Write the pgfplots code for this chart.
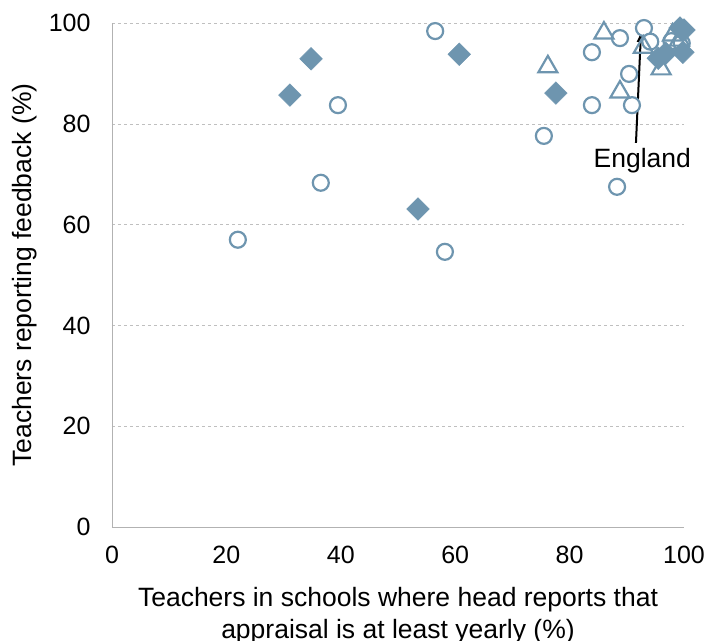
\documentclass[border=0pt]{standalone}
\usepackage{pgfplots}
\pgfplotsset{compat=1.18}
\usetikzlibrary{arrows.meta}
\usepackage{fontspec}
\setmainfont{Liberation Sans}
\definecolor{mk}{RGB}{110,149,175}
\begin{document}
\begin{tikzpicture}
\begin{axis}[
  at={(0pt,0pt)}, anchor=south west,
  scale only axis,
  width=572pt, height=504pt,
  xmin=0, xmax=100, ymin=0, ymax=100,
  xtick={0,20,...,100}, ytick={0,20,...,100},
  axis x line*=bottom, axis y line*=left,
  axis line style={draw=gray!60},
  tick style={draw=none},
  ymajorgrids, grid style={dashed, gray!50, line width=0.5pt},
  /pgf/number format/assume math mode=true,
  ticklabel style={font=\fontsize{25}{28}\selectfont},
  xticklabel style={yshift=-16pt},
  yticklabel style={xshift=-18pt},
  xlabel={Teachers in schools where head reports that\\appraisal is at least yearly (\%)},
  every axis x label/.style={at={(axis description cs:0.5,0)}, anchor=north, yshift=-57pt,
     font=\fontsize{26.5}{32}\selectfont, align=center},
  ylabel={Teachers reporting feedback (\%)},
  every axis y label/.style={at={(axis description cs:-0.1399,0.5)}, rotate=90, anchor=base,
     font=\fontsize{26.5}{32}\selectfont},
  clip=false,
]
\addplot[only marks, mark=*, mark size=8pt, mark options={draw=mk, fill=white, line width=2.2pt}] coordinates {
(22.0,57.0) (36.5,68.3) (39.5,83.7) (56.5,98.4) (58.2,54.6) (75.5,77.6)
(83.9,83.7) (83.9,94.2) (88.8,97.0) (88.3,67.5) (90.4,89.9) (90.9,83.7)
(93.0,99.0) (94.1,96.3) (97.8,96.4) (99.6,96.0)
};
\addplot[only marks, mark=triangle, mark size=11pt, mark options={draw=mk, fill=none, line width=2.2pt}] coordinates {
(76.2,91.3) (86.0,98.0) (88.8,86.3) (92.9,95.2) (96.0,90.9) (98.0,97.6) (99.2,96.6)
};
\addplot[only marks, mark=square*, mark size=8pt, mark options={rotate=45, draw=mk, fill=mk, line width=0.5pt}] coordinates {
(31.1,85.7) (34.8,92.9) (53.5,63.1) (60.7,93.8) (77.6,86.1)
(95.5,93.0) (96.8,94.0) (99.8,94.2) (99.3,99.0) (100,98.6)
};
\draw[-{Latex[length=12pt,width=8pt]}, line width=2pt, black] (axis cs:91.6,76.2) -- (axis cs:92.5,98.6);
\node[font=\fontsize{26.5}{30}\selectfont, anchor=center] at (axis cs:92.7,72.6) {England};
\end{axis}
\pgfresetboundingbox
\useasboundingbox (-112pt,-113pt) rectangle (597pt,527pt);
\end{tikzpicture}
\end{document}
